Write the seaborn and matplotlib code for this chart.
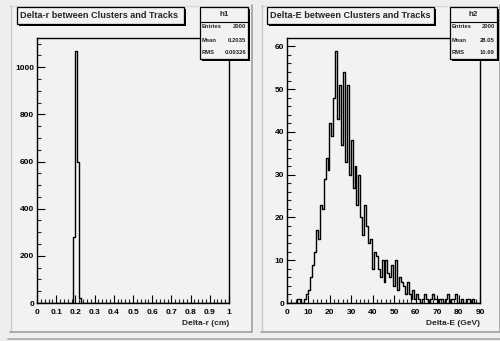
import numpy as np
import pandas as pd
import matplotlib
matplotlib.use("Agg")
import matplotlib.pyplot as plt
from matplotlib.patches import Rectangle
from matplotlib.lines import Line2D
import seaborn as sns

# ---------------- data ----------------
r_edges = np.linspace(0.0, 1.0, 101)
r_counts = [0] * 19 + [280, 1070, 600, 20] + [0] * 77

e_edges = np.linspace(0.0, 90.0, 101)
e_counts = [0, 0, 0, 0, 0, 1, 1, 0, 0, 1,
            2, 3, 6, 9, 12, 17, 15, 23, 22, 29,
            34, 31, 42, 39, 48, 59, 43, 51, 37, 54,
            33, 51, 30, 38, 27, 32, 23, 30, 20, 16,
            23, 18, 14, 15, 8, 12, 11, 8, 6, 10,
            5, 10, 7, 6, 9, 4, 10, 3, 6, 5,
            4, 2, 5, 2, 1, 3, 1, 2, 1, 0,
            1, 2, 1, 0, 1, 2, 1, 1, 0, 1,
            1, 0, 1, 2, 0, 1, 1, 2, 0, 0,
            1, 0, 0, 1, 1, 0, 1, 0, 0, 0]

titles = ["Delta-r between Clusters and Tracks", "Delta-E between Clusters and Tracks"]
xlabels = ["Delta-r (cm)", "Delta-E (GeV)"]
hist_names = ["h1", "h2"]
stat_labels = ["Entries", "Mean", "RMS"]
stat_values = [["2000", "0.2035", "0.00326"], ["2000", "28.05", "10.69"]]

# ---------------- style ----------------
sns.set_style("ticks")
plt.rcParams["font.family"] = ["Liberation Sans", "DejaVu Sans"]
plt.rcParams["font.weight"] = "bold"

W, H = 500, 341
PAD = "#f2f2f2"
CANVAS = "#eeeeee"
fig = plt.figure(figsize=(W / 100, H / 100), dpi=100, facecolor=CANVAS)


def rect(x0, y0, x1, y1):
    return [x0 / W, 1 - y1 / H, (x1 - x0) / W, (y1 - y0) / H]


def fx(x):
    return x / W


def fy(y):
    return 1 - y / H


def hline(x0, x1, y, color, lw=1.0):
    fig.add_artist(Line2D([fx(x0), fx(x1)], [fy(y), fy(y)], color=color, lw=lw,
                          transform=fig.transFigure))


def vline(x, y0, y1, color, lw=1.0):
    fig.add_artist(Line2D([fx(x), fx(x)], [fy(y0), fy(y1)], color=color, lw=lw,
                          transform=fig.transFigure))


def box(x0, y0, x1, y1, shadow=2):
    fig.add_artist(Rectangle((fx(x0 + shadow), fy(y1 + shadow)),
                             (x1 - x0) / W, (y1 - y0) / H,
                             transform=fig.transFigure, facecolor="black",
                             edgecolor="none", zorder=5))
    fig.add_artist(Rectangle((fx(x0), fy(y1)), (x1 - x0) / W, (y1 - y0) / H,
                             transform=fig.transFigure, facecolor=PAD,
                             edgecolor="black", lw=0.9, zorder=6))


hline(8, 500, 338.5, "#a8a8a8", 1.2)

pads = [(10, 5, 252, 332), (261, 5, 500, 332)]
for (x0, y0, x1, y1) in pads:
    fig.add_artist(Rectangle((fx(x0), fy(y1)), (x1 - x0) / W, (y1 - y0) / H,
                             transform=fig.transFigure, facecolor=PAD,
                             edgecolor="none", zorder=0))
    hline(x0, x1, y0 + 0.5, "#d8d8d8", 1.0)
    vline(x0 + 0.5, y0, y1, "#c8c8c8", 1.0)
    hline(x0, x1, y1 - 0.5, "#a0a0a0", 1.2)
    vline(x1 - 0.5, y0, y1, "#a0a0a0", 1.2)

axes_rects = [(37, 38, 229, 303), (287, 38, 480, 303)]
xlims = [(0, 1), (0, 90)]
ylims = [(0, 1124), (0, 61.95)]
xmajor = [np.arange(0, 1.01, 0.1), np.arange(0, 91, 10)]
xminor = [np.arange(0, 1.001, 0.02), np.arange(0, 91, 2)]
ymajor = [np.arange(0, 1001, 200), np.arange(0, 61, 10)]
yminor = [np.arange(0, 1124, 50), np.arange(0, 62, 2)]
xticklabels = [["0", "0.1", "0.2", "0.3", "0.4", "0.5", "0.6", "0.7", "0.8", "0.9", "1"],
               [str(v) for v in range(0, 91, 10)]]
edges_list = [r_edges, e_edges]
counts_list = [r_counts, e_counts]

for i in range(2):
    ax = fig.add_axes(rect(*axes_rects[i]))
    ax.set_facecolor(PAD)
    edges = edges_list[i]
    centers = 0.5 * (edges[:-1] + edges[1:])
    df = pd.DataFrame({"x": centers, "w": np.asarray(counts_list[i], dtype=float)})
    sns.histplot(data=df, x="x", weights="w", bins=list(edges), element="step",
                 fill=False, color="black", linewidth=1.0, ax=ax)
    ax.set_xlim(*xlims[i])
    ax.set_ylim(*ylims[i])
    ax.set_xticks(xmajor[i])
    ax.set_xticklabels(xticklabels[i])
    ax.set_xticks(xminor[i], minor=True)
    ax.set_yticks(ymajor[i])
    ax.set_yticks(yminor[i], minor=True)
    ax.tick_params(which="major", direction="in", length=6, width=0.8,
                   labelsize=6, pad=4, top=False, right=False, colors="black")
    ax.tick_params(which="minor", direction="in", length=3, width=0.8,
                   top=False, right=False)
    ax.tick_params(axis="y", which="major", pad=2)
    for lab in ax.get_xticklabels() + ax.get_yticklabels():
        lab.set_fontweight("bold")
    for s in ax.spines.values():
        s.set_visible(True)
        s.set_linewidth(1.0)
        s.set_color("black")
    ax.set_ylabel("")
    ax.set_xlabel(xlabels[i], loc="right", fontsize=6, fontweight="bold", labelpad=3)

title_boxes = [(17, 7, 184, 24), (267, 7, 434, 24)]
stat_boxes = [(200, 7, 248, 59), (450, 7, 497, 59)]
for i in range(2):
    x0, y0, x1, y1 = title_boxes[i]
    box(x0, y0, x1, y1, shadow=2)
    fig.text(fx(x0 + 3), fy((y0 + y1) / 2), titles[i], fontsize=6.6,
             fontweight="bold", ha="left", va="center", zorder=7)
    x0, y0, x1, y1 = stat_boxes[i]
    box(x0, y0, x1, y1, shadow=2)
    fig.add_artist(Line2D([fx(x0), fx(x1)], [fy(22), fy(22)], color="black", lw=0.8,
                          transform=fig.transFigure, zorder=7))
    fig.text(fx((x0 + x1) / 2), fy(14.5), hist_names[i], fontsize=5.8,
             fontweight="bold", ha="center", va="center", zorder=7)
    for k, yy in enumerate([27, 40, 52.5]):
        fig.text(fx(x0 + 2), fy(yy), stat_labels[k], fontsize=4.2,
                 fontweight="bold", ha="left", va="center", zorder=7)
        fig.text(fx(x1 - 2), fy(yy), stat_values[i][k], fontsize=4.2,
                 fontweight="bold", ha="right", va="center", zorder=7)

fig.savefig("out.png", dpi=100, facecolor=CANVAS)
